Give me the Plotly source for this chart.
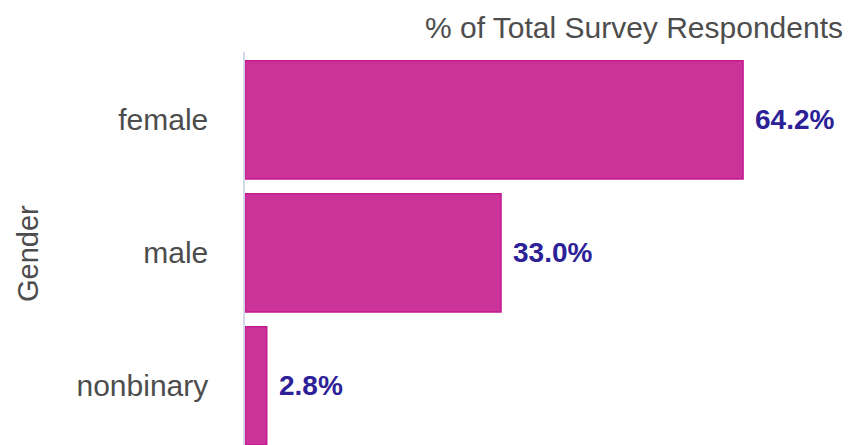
import plotly.graph_objects as go

categories = ["female", "male", "nonbinary"]
values = [64.2, 33.0, 2.8]
value_labels = ["64.2%", "33.0%", "2.8%"]
axis_title = "Gender"
chart_title = "% of Total Survey Respondents"

FONT = "Liberation Sans, Arial, Helvetica, sans-serif"
BAR_FILL = "#CC3399"
BAR_LINE = "#C41A92"
LABEL_COLOR = "#2C2196"
TEXT_COLOR = "#4d4d4d"

fig = go.Figure()
fig.add_trace(go.Bar(
    x=values,
    y=categories,
    orientation="h",
    marker=dict(color=BAR_FILL, line=dict(color=BAR_LINE, width=1.5)),
    hoverinfo="skip",
))

for cat, val, lab in zip(categories, values, value_labels):
    fig.add_annotation(
        x=val, y=cat, xref="x", yref="y",
        text=lab, showarrow=False,
        xanchor="left", yanchor="middle", xshift=10,
        font=dict(family=FONT, size=28, color=LABEL_COLOR, weight="bold"),
    )

fig.add_annotation(
    xref="paper", yref="paper",
    x=(28 - 245) / 616, y=(445 - 254) / 393,
    text=axis_title, textangle=-90, showarrow=False,
    xanchor="center", yanchor="middle",
    font=dict(family=FONT, size=29, color=TEXT_COLOR),
)

fig.update_layout(
    width=861, height=445,
    margin=dict(l=245, r=0, t=52, b=0, pad=0),
    paper_bgcolor="white", plot_bgcolor="white",
    bargap=0.11,
    showlegend=False,
    title=dict(
        text=chart_title,
        x=843 / 861, xanchor="right", xref="container",
        y=1 - 27 / 445, yanchor="middle", yref="container",
        font=dict(family=FONT, size=30, color=TEXT_COLOR),
    ),
    xaxis=dict(
        range=[0, 79.4], visible=False, showgrid=False, zeroline=False, fixedrange=True,
    ),
    yaxis=dict(
        type="category",
        categoryorder="array", categoryarray=categories,
        range=[2.445, -0.51],
        showline=True, linecolor="#d3d9e6", linewidth=1.5,
        showgrid=False, zeroline=False, ticks="",
        ticklabelstandoff=29,
        tickfont=dict(family=FONT, size=30, color=TEXT_COLOR),
        fixedrange=True,
    ),
)

fig.write_html("out.html")
